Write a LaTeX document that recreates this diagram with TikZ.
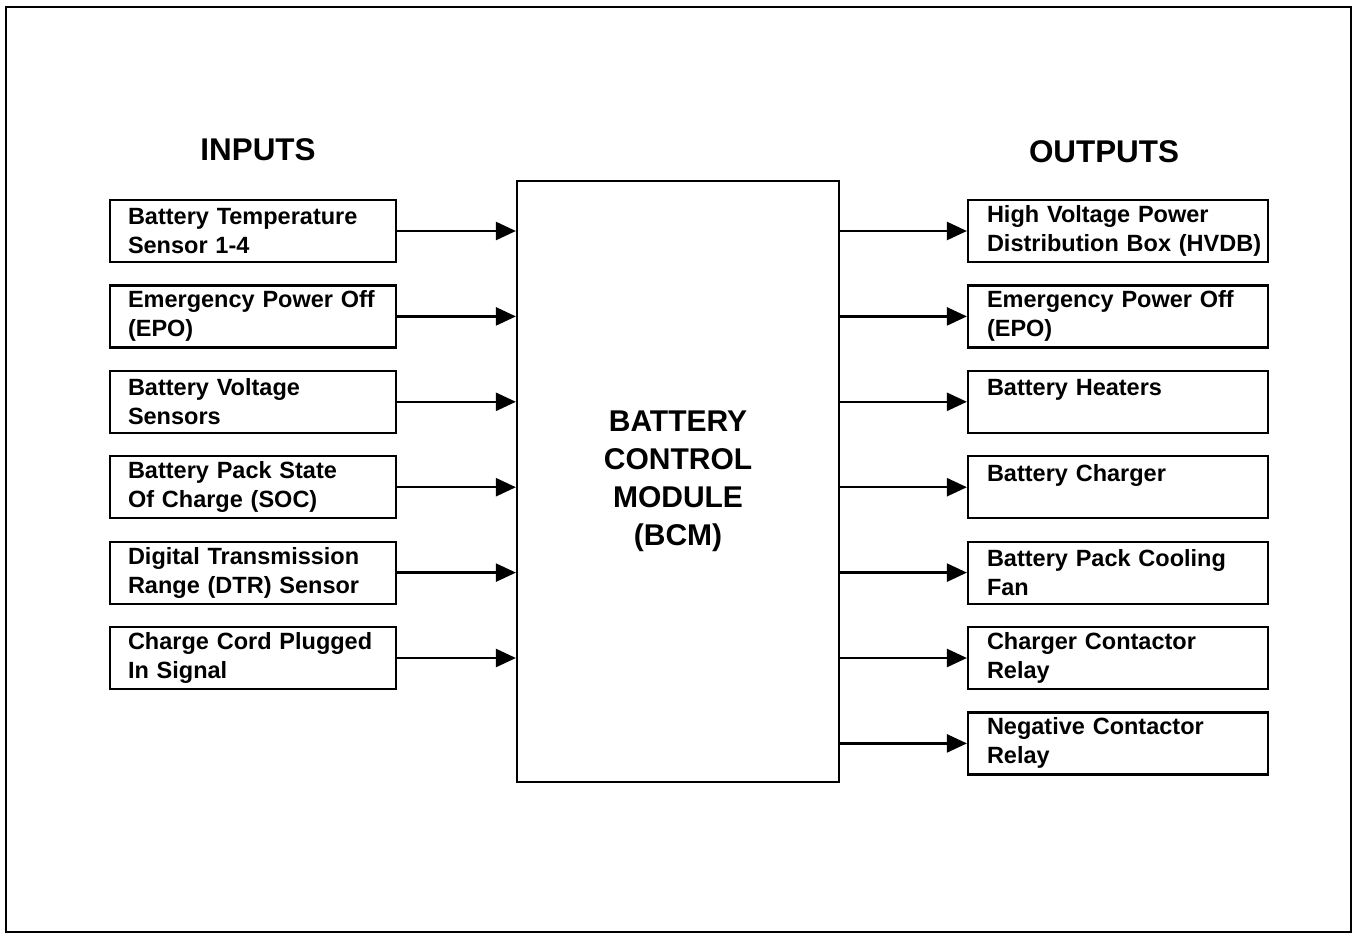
\documentclass[tikz,border=0pt]{standalone}
\usepackage{fontspec}
\setmainfont{Liberation Sans}
\usetikzlibrary{arrows.meta, positioning}
\tikzstyle{inbox} = [rectangle, draw=black, line width=1.1pt, minimum width=143pt, minimum height=31pt, text width=125pt, inner xsep=9pt, inner ysep=2pt, align=left, font=\bfseries\fontsize{11.75}{14.5}\selectfont]
\tikzstyle{outbox} = [inbox, minimum width=150pt, text width=131pt, inner xsep=9.5pt]
\tikzstyle{module} = [rectangle, draw=black, line width=1.1pt, minimum width=161pt, minimum height=300.5pt, align=center, font=\bfseries\fontsize{15}{19}\selectfont]
\tikzstyle{title} = [font=\bfseries\fontsize{15.7}{19}\selectfont]
\tikzstyle{arrow} = [line width=1.2pt, -{Triangle[length=10pt, width=9pt]}]
\begin{document}
\begin{tikzpicture}[x=0.5pt, y=-0.5pt, node distance=10.6pt]
		\useasboundingbox (0,0) rectangle (1354,933);
		\draw [line width=1.2pt] (6,7) rectangle (1351,932);
		\node (InputsTitle) [title] at (258,150) {INPUTS};
		\node (OutputsTitle) [title] at (1104,152) {OUTPUTS};
		\node (BCM) [module] at (678,481.5) {BATTERY\\CONTROL\\MODULE\\(BCM)};
		% inputs
		\node (TempSensor) [inbox] at (253,231) {Battery Temperature\\Sensor 1-4};
		\node (EPOIn) [inbox, below = of TempSensor] {Emergency Power Off\\(EPO)};
		\node (VoltSensor) [inbox, below = of EPOIn] {Battery Voltage\\Sensors};
		\node (SOC) [inbox, below = of VoltSensor] {Battery Pack State\\Of Charge (SOC)};
		\node (DTR) [inbox, below = of SOC] {Digital Transmission\\Range (DTR) Sensor};
		\node (CordSignal) [inbox, below = of DTR] {Charge Cord Plugged\\In Signal};
		% outputs
		\node (HVDB) [outbox] at (1118,231) {High Voltage Power\\\mbox{Distribution Box (HVDB)}};
		\node (EPOOut) [outbox, below = of HVDB] {Emergency Power Off\\(EPO)};
		\node (Heaters) [outbox, below = of EPOOut] {Battery Heaters\\\mbox{}};
		\node (Charger) [outbox, below = of Heaters] {Battery Charger\\\mbox{}};
		\node (CoolingFan) [outbox, below = of Charger] {Battery Pack Cooling\\Fan};
		\node (ChargerRelay) [outbox, below = of CoolingFan] {Charger Contactor\\Relay};
		\node (NegRelay) [outbox, below = of ChargerRelay] {Negative Contactor\\Relay};
		\foreach \n in {TempSensor,EPOIn,VoltSensor,SOC,DTR,CordSignal}
			\draw [arrow] (\n) -- (\n -| BCM.west);
		\foreach \n in {HVDB,EPOOut,Heaters,Charger,CoolingFan,ChargerRelay,NegRelay}
			\draw [arrow] (BCM.east |- \n) -- (\n);
\end{tikzpicture}
\end{document}
